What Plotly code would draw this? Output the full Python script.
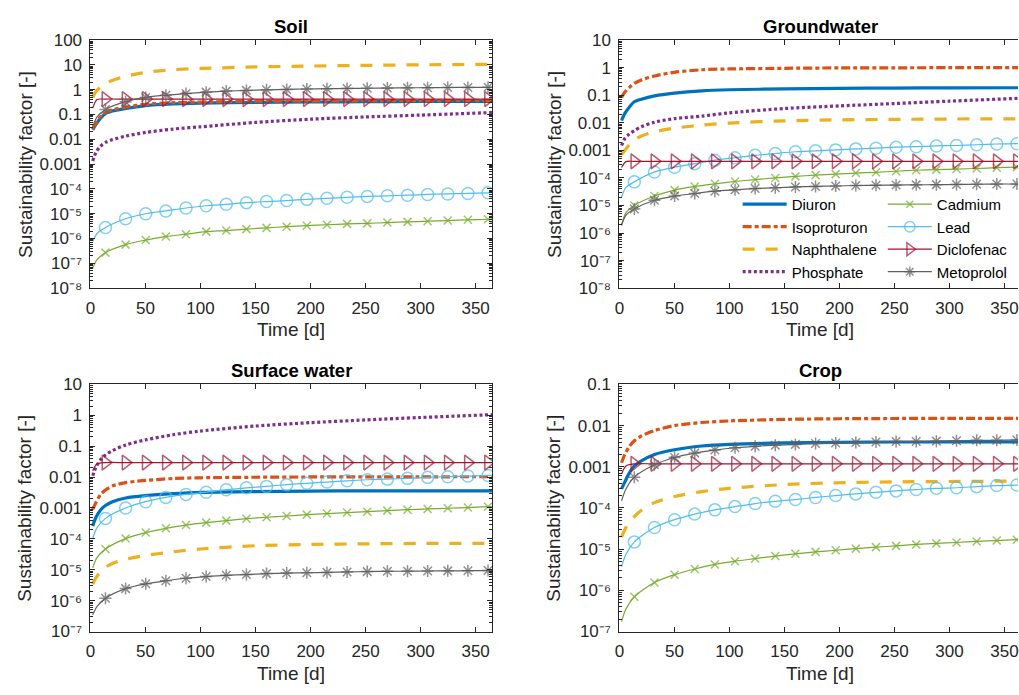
import plotly.graph_objects as go

# ---------------------------------------------------------------- time axes [d]
T_LINE = [2, 5, 9, 13.6, 20, 32, 50, 75, 100, 150, 200, 250, 300, 365]
MARKER_DAYS = [13.6, 31.9, 50.2, 68.5, 86.8, 105.1, 123.4, 141.7, 160.0, 178.3,
               196.6, 214.9, 233.2, 251.5, 269.8, 288.1, 306.4, 324.7, 343.0, 361.3]
T_MARK = [2, 6] + MARKER_DAYS + [365]

# ---------------------------------------------------------------- Soil
SOIL_DIURON = [0.024, 0.04, 0.07, 0.11, 0.14, 0.175, 0.23, 0.27, 0.29, 0.31, 0.32, 0.33, 0.335, 0.34]
SOIL_ISOPROTURON = [0.026, 0.045, 0.08, 0.12, 0.155, 0.2, 0.26, 0.3, 0.32, 0.345, 0.355, 0.36, 0.365, 0.37]
SOIL_NAPHTHALENE = [0.49, 0.85, 1.25, 1.75, 2.4, 3.5, 5.0, 6.4, 7.2, 8.3, 9.0, 9.6, 10.1, 10.6]
SOIL_PHOSPHATE = [0.00135, 0.003, 0.0052, 0.0075, 0.0098, 0.0135, 0.019, 0.026, 0.032, 0.048, 0.065, 0.08, 0.095, 0.12]
SOIL_CADMIUM = [6.3e-8, 1.4e-7, 2.7e-7, 5.7e-7, 8.7e-7, 1.2e-6, 1.5e-6, 1.9e-6, 2.1e-6, 2.4e-6, 2.7e-6, 3.0e-6,
                3.3e-6, 3.6e-6, 3.9e-6, 4.1e-6, 4.4e-6, 4.7e-6, 5.0e-6, 5.3e-6, 5.7e-6, 6.0e-6, 6.1e-6]
SOIL_LEAD = [7.6e-7, 1.6e-6, 2.8e-6, 6.3e-6, 1.0e-5, 1.3e-5, 1.7e-5, 2.1e-5, 2.4e-5, 2.8e-5, 3.1e-5, 3.4e-5,
             3.8e-5, 4.2e-5, 4.6e-5, 5.0e-5, 5.3e-5, 5.6e-5, 6.0e-5, 6.3e-5, 6.6e-5, 7.0e-5, 7.1e-5]
SOIL_DICLOFENAC = [0.18, 0.4, 0.42, 0.42, 0.42, 0.42, 0.42, 0.42, 0.42, 0.42, 0.42, 0.42,
                   0.42, 0.42, 0.42, 0.42, 0.42, 0.42, 0.42, 0.42, 0.42, 0.42, 0.42]
SOIL_METOPROLOL = [0.032, 0.08, 0.16, 0.33, 0.49, 0.6, 0.7, 0.8, 0.88, 0.94, 0.99, 1.03,
                   1.07, 1.1, 1.13, 1.15, 1.17, 1.19, 1.21, 1.23, 1.24, 1.25, 1.25]

# ---------------------------------------------------------------- Groundwater
GW_DIURON = [0.012, 0.022, 0.037, 0.058, 0.072, 0.095, 0.12, 0.145, 0.158, 0.17, 0.178, 0.182, 0.185, 0.187]
GW_ISOPROTURON = [0.083, 0.13, 0.19, 0.27, 0.36, 0.5, 0.68, 0.84, 0.9, 0.95, 0.98, 0.99, 1.0, 1.0]
GW_NAPHTHALENE = [0.0007, 0.001, 0.0016, 0.0024, 0.0033, 0.0047, 0.0064, 0.0082, 0.0098, 0.0118, 0.0128, 0.0133, 0.0137, 0.014]
GW_PHOSPHATE = [0.0015, 0.0027, 0.0039, 0.0052, 0.0072, 0.0105, 0.0142, 0.0175, 0.023, 0.033, 0.041, 0.05, 0.061, 0.078]
GW_CADMIUM = [2.0e-6, 5.5e-6, 1.0e-5, 2.2e-5, 3.6e-5, 4.9e-5, 6.1e-5, 7.4e-5, 8.7e-5, 1.0e-4, 1.14e-4, 1.26e-4,
              1.37e-4, 1.5e-4, 1.6e-4, 1.75e-4, 1.9e-4, 2.0e-4, 2.1e-4, 2.2e-4, 2.35e-4, 2.45e-4, 2.5e-4]
GW_LEAD = [2.0e-5, 4.5e-5, 7.2e-5, 1.65e-4, 2.45e-4, 3.3e-4, 4.4e-4, 5.4e-4, 6.6e-4, 7.7e-4, 8.9e-4, 9.6e-4,
           1.04e-3, 1.13e-3, 1.2e-3, 1.3e-3, 1.36e-3, 1.45e-3, 1.5e-3, 1.6e-3, 1.7e-3, 1.75e-3, 1.77e-3]
GW_DICLOFENAC = [2.4e-4, 3.9e-4, 4.0e-4, 4.0e-4, 4.0e-4, 4.0e-4, 4.0e-4, 4.0e-4, 4.0e-4, 4.0e-4, 4.0e-4, 4.0e-4,
                 4.0e-4, 4.0e-4, 4.0e-4, 4.0e-4, 4.0e-4, 4.0e-4, 4.0e-4, 4.0e-4, 4.0e-4, 4.0e-4, 4.0e-4]
GW_METOPROLOL = [1.9e-6, 4.5e-6, 7.5e-6, 1.55e-5, 2.2e-5, 2.7e-5, 3.3e-5, 3.7e-5, 4.1e-5, 4.4e-5, 4.7e-5, 4.9e-5,
                 5.1e-5, 5.3e-5, 5.4e-5, 5.5e-5, 5.6e-5, 5.7e-5, 5.8e-5, 5.9e-5, 6.0e-5, 6.0e-5, 6.0e-5]

# ---------------------------------------------------------------- Surface water
SW_DIURON = [0.00026, 0.0005, 0.00085, 0.0012, 0.0016, 0.0021, 0.0025, 0.0029, 0.0032, 0.0034, 0.0035, 0.0036, 0.0036, 0.0036]
SW_ISOPROTURON = [0.0009, 0.0015, 0.0027, 0.0038, 0.0052, 0.0066, 0.0078, 0.009, 0.0095, 0.0099, 0.0101, 0.0102, 0.0102, 0.0103]
SW_NAPHTHALENE = [3.4e-6, 5.5e-6, 8.5e-6, 1.2e-5, 1.6e-5, 2.2e-5, 2.9e-5, 3.8e-5, 4.7e-5, 6.0e-5, 6.6e-5, 6.9e-5, 7.1e-5, 7.2e-5]
SW_PHOSPHATE = [0.011, 0.021, 0.036, 0.052, 0.072, 0.11, 0.16, 0.235, 0.31, 0.45, 0.58, 0.71, 0.85, 1.05]
SW_CADMIUM = [1.15e-5, 2.5e-5, 4.7e-5, 1.02e-4, 1.6e-4, 2.2e-4, 2.8e-4, 3.35e-4, 3.9e-4, 4.5e-4, 5.0e-4, 5.5e-4,
              6.1e-4, 6.6e-4, 7.1e-4, 7.6e-4, 8.2e-4, 8.8e-4, 9.3e-4, 9.8e-4, 1.03e-3, 1.1e-3, 1.11e-3]
SW_LEAD = [1.05e-4, 2.3e-4, 4.6e-4, 1.0e-3, 1.6e-3, 2.2e-3, 2.75e-3, 3.25e-3, 3.9e-3, 4.5e-3, 5.0e-3, 5.7e-3,
           6.3e-3, 6.9e-3, 7.6e-3, 8.2e-3, 8.6e-3, 9.1e-3, 9.8e-3, 1.03e-2, 1.08e-2, 1.13e-2, 1.14e-2]
SW_DICLOFENAC = [0.016, 0.027, 0.0295, 0.0295, 0.0295, 0.0295, 0.0295, 0.0295, 0.0295, 0.0295, 0.0295, 0.0295,
                 0.0295, 0.0295, 0.0295, 0.0295, 0.0295, 0.0295, 0.0295, 0.0295, 0.0295, 0.0295, 0.0295]
SW_METOPROLOL = [3.5e-7, 6.5e-7, 1.2e-6, 2.45e-6, 3.5e-6, 4.4e-6, 5.3e-6, 6.0e-6, 6.6e-6, 7.0e-6, 7.5e-6, 7.8e-6,
                 8.0e-6, 8.2e-6, 8.5e-6, 8.7e-6, 8.9e-6, 9.0e-6, 9.1e-6, 9.2e-6, 9.3e-6, 9.4e-6, 9.4e-6]

# ---------------------------------------------------------------- Crop
CROP_DIURON = [0.00029, 0.00043, 0.0007, 0.00105, 0.0014, 0.002, 0.0026, 0.0032, 0.0035, 0.0038, 0.0039, 0.004, 0.004, 0.004]
CROP_ISOPROTURON = [0.00125, 0.002, 0.0031, 0.0043, 0.0056, 0.0076, 0.01, 0.0119, 0.013, 0.0142, 0.0147, 0.0149, 0.015, 0.015]
CROP_NAPHTHALENE = [1.95e-5, 3.0e-5, 4.5e-5, 6.2e-5, 8.8e-5, 1.35e-4, 1.9e-4, 2.5e-4, 3.0e-4, 3.7e-4, 4.1e-4, 4.3e-4, 4.4e-4, 4.5e-4]
CROP_PHOSPHATE = None  # no phosphate curve in the crop compartment
CROP_CADMIUM = [1.75e-7, 3.5e-7, 7.0e-7, 1.55e-6, 2.4e-6, 3.3e-6, 4.25e-6, 5.1e-6, 5.9e-6, 6.8e-6, 7.7e-6, 8.6e-6,
                9.4e-6, 1.03e-5, 1.12e-5, 1.2e-5, 1.3e-5, 1.38e-5, 1.45e-5, 1.54e-5, 1.62e-5, 1.7e-5, 1.72e-5]
CROP_LEAD = [3.8e-6, 7.5e-6, 1.5e-5, 3.35e-5, 5.2e-5, 7.1e-5, 9.0e-5, 1.08e-4, 1.28e-4, 1.45e-4, 1.6e-4, 1.8e-4,
             2.0e-4, 2.2e-4, 2.4e-4, 2.6e-4, 2.8e-4, 3.0e-4, 3.1e-4, 3.3e-4, 3.5e-4, 3.6e-4, 3.65e-4]
CROP_DICLOFENAC = [6.7e-4, 1.05e-3, 1.18e-3, 1.18e-3, 1.18e-3, 1.18e-3, 1.18e-3, 1.18e-3, 1.18e-3, 1.18e-3, 1.18e-3, 1.18e-3,
                   1.18e-3, 1.18e-3, 1.18e-3, 1.18e-3, 1.18e-3, 1.18e-3, 1.18e-3, 1.18e-3, 1.18e-3, 1.18e-3, 1.18e-3]
CROP_METOPROLOL = [1.5e-4, 2.9e-4, 5.6e-4, 1.12e-3, 1.68e-3, 2.15e-3, 2.55e-3, 2.9e-3, 3.15e-3, 3.35e-3, 3.5e-3, 3.7e-3,
                   3.8e-3, 3.9e-3, 4.0e-3, 4.1e-3, 4.1e-3, 4.2e-3, 4.3e-3, 4.4e-3, 4.4e-3, 4.5e-3, 4.5e-3]

# ---------------------------------------------------------------- panels
PANELS = [
    dict(title="Soil", x="x", y="y", ymin=-8, ymax=2, right=False,
         data=[SOIL_DIURON, SOIL_ISOPROTURON, SOIL_NAPHTHALENE, SOIL_PHOSPHATE,
               SOIL_CADMIUM, SOIL_LEAD, SOIL_DICLOFENAC, SOIL_METOPROLOL]),
    dict(title="Groundwater", x="x2", y="y2", ymin=-8, ymax=1, right=True,
         data=[GW_DIURON, GW_ISOPROTURON, GW_NAPHTHALENE, GW_PHOSPHATE,
               GW_CADMIUM, GW_LEAD, GW_DICLOFENAC, GW_METOPROLOL]),
    dict(title="Surface water", x="x3", y="y3", ymin=-7, ymax=1, right=False,
         data=[SW_DIURON, SW_ISOPROTURON, SW_NAPHTHALENE, SW_PHOSPHATE,
               SW_CADMIUM, SW_LEAD, SW_DICLOFENAC, SW_METOPROLOL]),
    dict(title="Crop", x="x4", y="y4", ymin=-7, ymax=-1, right=True,
         data=[CROP_DIURON, CROP_ISOPROTURON, CROP_NAPHTHALENE, CROP_PHOSPHATE,
               CROP_CADMIUM, CROP_LEAD, CROP_DICLOFENAC, CROP_METOPROLOL]),
]

SUBSTANCES = ["Diuron", "Isoproturon", "Naphthalene", "Phosphate",
              "Cadmium", "Lead", "Diclofenac", "Metoprolol"]

STYLE = {
    "Diuron":      dict(color="#0072BD", width=3.2, dash="solid"),
    "Isoproturon": dict(color="#D95319", width=3.2, dash="9px,3px,4px,3px"),
    "Naphthalene": dict(color="#EDB120", width=3.2, dash="12px,11px"),
    "Phosphate":   dict(color="#7E2F8E", width=3.2, dash="3px,2.6px"),
    "Cadmium":     dict(color="#77AC30", width=1.2, symbol="x-thin-open", size=8),
    "Lead":        dict(color="#4DBEEE", width=1.2, symbol="circle-open", size=12),
    "Diclofenac":  dict(color="#A2142F", width=1.2, symbol="triangle-right-open", size=13),
    "Metoprolol":  dict(color="#606060", width=1.2, symbol="asterisk-open", size=10),
}

FONT = "Arial, Liberation Sans, Helvetica, sans-serif"
INK = "#262626"
W, H = 1019, 695

# axes boxes in pixels (left, right, top, bottom)
LEFT_X = (86, 490)
RIGHT_X = (618, 1019)
TOP_Y = (32, 287)
BOT_Y = (386, 640)
PX_PER_DAY = (LEFT_X[1] - LEFT_X[0]) / 365.0
RIGHT_XMAX = (RIGHT_X[1] - RIGHT_X[0]) / PX_PER_DAY

SUPERSCRIPT = str.maketrans("-0123456789", "⁻⁰¹²³⁴⁵⁶⁷⁸⁹")


def xdom(px):
    return [px[0] / W, px[1] / W]


def ydom(px):
    return [1 - px[1] / H, 1 - px[0] / H]


def tick_label(e):
    labels = {2: "100", 1: "10", 0: "1", -1: "0.1", -2: "0.01", -3: "0.001"}
    return labels.get(e, "10" + str(e).translate(SUPERSCRIPT))


fig = go.Figure()

for p in PANELS:
    for name, values in zip(SUBSTANCES, p["data"]):
        if values is None:
            continue
        st = STYLE[name]
        show = p["title"] == "Groundwater"
        legend = "legend" if name in SUBSTANCES[:4] else "legend2"
        if "symbol" in st:
            sizes = [st["size"] if t in MARKER_DAYS else 0 for t in T_MARK]
            fig.add_trace(go.Scatter(
                x=T_MARK, y=values, name=name, mode="lines+markers",
                xaxis=p["x"], yaxis=p["y"], showlegend=show, legend=legend,
                line=dict(color=st["color"], width=st["width"], shape="spline", smoothing=0.8),
                marker=dict(symbol=st["symbol"], size=sizes, color=st["color"],
                            line=dict(color=st["color"], width=1.5)),
                hoverinfo="skip"))
        else:
            fig.add_trace(go.Scatter(
                x=T_LINE, y=values, name=name, mode="lines",
                xaxis=p["x"], yaxis=p["y"], showlegend=show, legend=legend,
                line=dict(color=st["color"], width=st["width"], dash=st["dash"],
                          shape="spline", smoothing=0.8),
                hoverinfo="skip"))

layout = dict(
    width=W, height=H, margin=dict(l=0, r=0, t=0, b=0),
    paper_bgcolor="white", plot_bgcolor="white",
    font=dict(family=FONT, color=INK, size=17),
    annotations=[],
)

for i, p in enumerate(PANELS):
    suffix = "" if i == 0 else str(i + 1)
    xpx = RIGHT_X if p["right"] else LEFT_X
    ypx = TOP_Y if i < 2 else BOT_Y
    xmax = RIGHT_XMAX if p["right"] else 365
    exps = list(range(p["ymin"], p["ymax"] + 1))
    minor_vals = [k * 10.0 ** e for e in exps[:-1] for k in range(2, 10)]
    layout["xaxis" + suffix] = dict(
        domain=xdom(xpx), anchor="y" + suffix, range=[0, xmax],
        tickmode="array", tickvals=[0, 50, 100, 150, 200, 250, 300, 350],
        ticks="inside", ticklen=5, tickcolor=INK, tickwidth=1,
        showline=True, linecolor=INK, linewidth=1, mirror="ticks",
        showgrid=False, zeroline=False, ticklabelstandoff=4,
        ticklabeloverflow="allow",
        tickfont=dict(size=17, color=INK, family=FONT))
    layout["yaxis" + suffix] = dict(
        domain=ydom(ypx), anchor="x" + suffix, type="log",
        range=[p["ymin"], p["ymax"]],
        tickmode="array", tickvals=[10.0 ** e for e in exps],
        ticktext=[tick_label(e) for e in exps],
        ticks="inside", ticklen=5, tickcolor=INK, tickwidth=1,
        minor=dict(tickmode="array", tickvals=minor_vals, ticks="inside",
                   ticklen=3, tickcolor=INK, tickwidth=1),
        showline=True, linecolor=INK, linewidth=1,
        mirror=False if p["right"] else "ticks",
        showgrid=False, zeroline=False, ticklabelstandoff=4,
        tickfont=dict(size=17, color=INK, family=FONT))

    xref = "x" + suffix
    cx = 365 / 2
    # panel title
    layout["annotations"].append(dict(
        text="<b>%s</b>" % p["title"], xref=xref, yref="paper",
        x=cx, y=1 - (ypx[0] - 14) / H, xanchor="center", yanchor="middle",
        showarrow=False, font=dict(size=18.5, color="black", family=FONT)))
    # x axis title
    layout["annotations"].append(dict(
        text="Time [d]", xref=xref, yref="paper",
        x=cx, y=1 - (ypx[1] + 43) / H, xanchor="center", yanchor="middle",
        showarrow=False, font=dict(size=19, color=INK, family=FONT)))
    # y axis title
    layout["annotations"].append(dict(
        text="Sustainability factor [-]", xref="paper", yref="paper",
        x=(xpx[0] - 66) / W, y=1 - (ypx[0] + ypx[1]) / 2 / H,
        xanchor="center", yanchor="middle", textangle=-90,
        showarrow=False, font=dict(size=19, color=INK, family=FONT)))

legend_common = dict(
    bgcolor="rgba(0,0,0,0)", borderwidth=0, orientation="v",
    font=dict(size=15, color="black", family=FONT), itemwidth=44,
    xanchor="left", yanchor="top", traceorder="normal", tracegroupgap=0)
layout["legend"] = dict(legend_common, x=737 / W, y=1 - 184 / H)
layout["legend2"] = dict(legend_common, x=883 / W, y=1 - 184 / H)

fig.update_layout(**layout)
fig.write_html("out.html")
